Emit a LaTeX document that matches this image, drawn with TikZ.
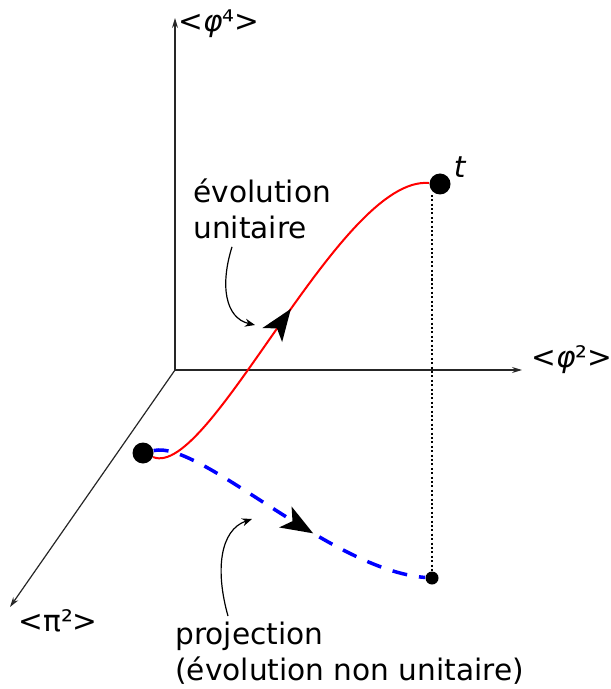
\documentclass[tikz,border=0pt]{standalone}
\usepackage{fontspec}
\setmainfont{DejaVu Sans}
\usetikzlibrary{arrows.meta, decorations.markings, positioning}
\tikzset{
  axis/.style={draw=black!85, line width=0.6pt, -{Stealth[length=5pt,width=3pt]}},
  bigdot/.style={circle, fill=black, inner sep=0pt, minimum size=10.5pt},
  smalldot/.style={circle, fill=black, inner sep=0pt, minimum size=6.5pt},
  midarrow/.style={postaction={decorate}, decoration={markings,
    mark=at position #1 with {\arrow{Stealth[length=16pt,width=12pt,inset=4pt,color=black]}}}},
  note/.style={-{Stealth[length=5pt,width=4pt]}, line width=0.6pt},
  lbl/.style={font=\fontsize{14.8}{18}\selectfont, align=left, inner sep=0pt}
}
\begin{document}
\begin{tikzpicture}[x=0.5pt, y=-0.5pt]
  \useasboundingbox (0,0) rectangle (610,689);
  % Axes
  \coordinate (O) at (175,370);
  \coordinate (zend) at (175,18);
  \coordinate (xend) at (522,370);
  \coordinate (yend) at (10,607);
  \draw[axis] (O) -- (zend);
  \draw[axis] (O) -- (xend);
  \draw[axis] (O) -- (yend);
  \node[lbl, anchor=west] (phi4) at (178,24) {<\textit{φ}⁴>};
  \node[lbl, anchor=west] (phi2) at (531,360) {<\textit{φ}²>};
  \node[lbl, anchor=west] (pi2) at (18,621) {<π²>};
  % States
  \node[bigdot] (s) at (143,453) {};
  \node[bigdot] (t) at (440,184) {};
  \node[smalldot] (p) at (432,578) {};
  \node[lbl] (tlbl) at (460,167) {\textit{t}};
  % Unitary evolution and its projection
  \draw[red, line width=1pt, midarrow=0.52] (s) .. controls (210,480) and (340,175) .. (t);
  \draw[blue, line width=1.75pt, dash pattern=on 7.5pt off 6pt, midarrow=0.6]
    (s) .. controls (200,440) and (330,570) .. (p);
  \draw[line width=1pt, dash pattern=on 1pt off 1.2pt] (p |- t.south) -- (p);
  % Annotations
  \node[lbl, anchor=north west] (evo) at (193,178) {évolution\\unitaire};
  \node[lbl, anchor=north west] (proj) at (175,622) {projection\\(évolution non unitaire)};
  \coordinate (evotip) at (255,325);
  \coordinate (projtip) at (252,519);
  \draw[note] ([xshift=19.5pt, yshift=-4pt]evo.south west)
    .. controls (220,285) and (225,318) .. (evotip);
  \draw[note] ([xshift=26.5pt, yshift=3pt]proj.north west)
    .. controls (215,570) and (220,530) .. (projtip);
\end{tikzpicture}
\end{document}
